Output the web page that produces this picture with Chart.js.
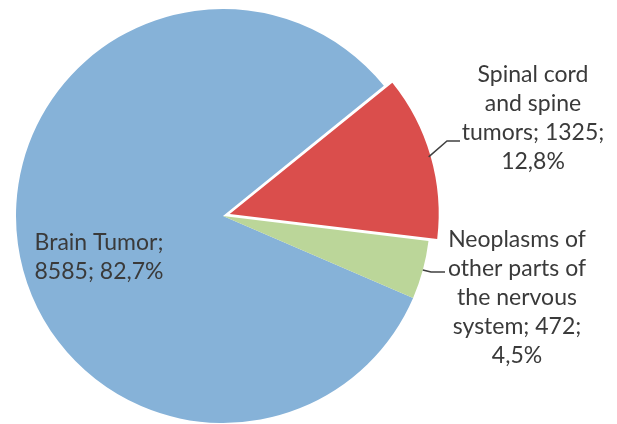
<!DOCTYPE html>
<html>
<head>
<meta charset="utf-8">
<script src="https://cdn.jsdelivr.net/npm/chart.js@4.4.1/dist/chart.umd.min.js"></script>
<style>
html,body{margin:0;padding:0;background:#fff;}
#wrap{width:617px;height:424px;position:relative;}
</style>
</head>
<body>
<div id="wrap"><canvas id="c" width="617" height="424"></canvas></div>
<script>
// ---- data ----
const categories = ["Brain Tumor", "Spinal cord and spine tumors", "Neoplasms of other parts of the nervous system"];
const values = [8585, 1325, 472];
const percentLabels = ["82,7%", "12,8%", "4,5%"];
const labelLines = [
  ["Brain Tumor;", "8585; 82,7%"],
  ["Spinal cord", "and spine", "tumors; 1325;", "12,8%"],
  ["Neoplasms of", "other parts of", "the nervous", "system; 472;", "4,5%"]
];

// ---- styles / placement ----
const colors = ["#86B2D8", "#DA4E4C", "#BBD699"];
const explodePx = [0, 7, 0];
const labelPlacement = [
  {x: 99, y: 243, leader: null},
  {x: 533, y: 75, leader: [[447, 141], [460, 141]]},
  {x: 517, y: 240, leader: [[431, 272], [445, 272]]}
];
const lineHeight = 29;
const fontSpec = "23px Lato";
const textColor = "#3a3a3a";

const labelPlugin = {
  id: 'pieLabels',
  afterDatasetsDraw(chart) {
    const ctx = chart.ctx;
    const meta = chart.getDatasetMeta(0);
    ctx.save();
    meta.data.forEach((arc, i) => {
      const p = labelPlacement[i];
      const {x, y, startAngle, endAngle, outerRadius} = arc.getProps(['x','y','startAngle','endAngle','outerRadius'], true);
      const mid = (startAngle + endAngle) / 2;
      const off = explodePx[i];
      if (p.leader) {
        const sx = x + (outerRadius + off) * Math.cos(mid);
        const sy = y + (outerRadius + off) * Math.sin(mid);
        ctx.beginPath();
        ctx.strokeStyle = "#404040";
        ctx.lineWidth = 1.5;
        ctx.moveTo(sx, sy);
        p.leader.forEach(pt => ctx.lineTo(pt[0], pt[1]));
        ctx.stroke();
      }
      ctx.fillStyle = textColor;
      ctx.font = fontSpec;
      ctx.textAlign = "center";
      ctx.textBaseline = "middle";
      labelLines[i].forEach((ln, k) => {
        ctx.fillText(ln, p.x, p.y + k * lineHeight);
      });
    });
    ctx.restore();
  }
};

new Chart(document.getElementById('c'), {
  type: 'pie',
  data: {
    labels: categories,
    datasets: [{
      data: values,
      backgroundColor: colors,
      borderWidth: 0,
      offset: explodePx.map(v => v * 4)
    }]
  },
  options: {
    responsive: false,
    animation: false,
    rotation: 51 - 360 * values[0] / values.reduce((a, b) => a + b, 0),
    radius: 207,
    layout: {padding: {left: 0, right: 171, top: 8, bottom: 0}},
    plugins: {legend: {display: false}, tooltip: {enabled: false}}
  },
  plugins: [labelPlugin]
});
</script>
</body>
</html>
